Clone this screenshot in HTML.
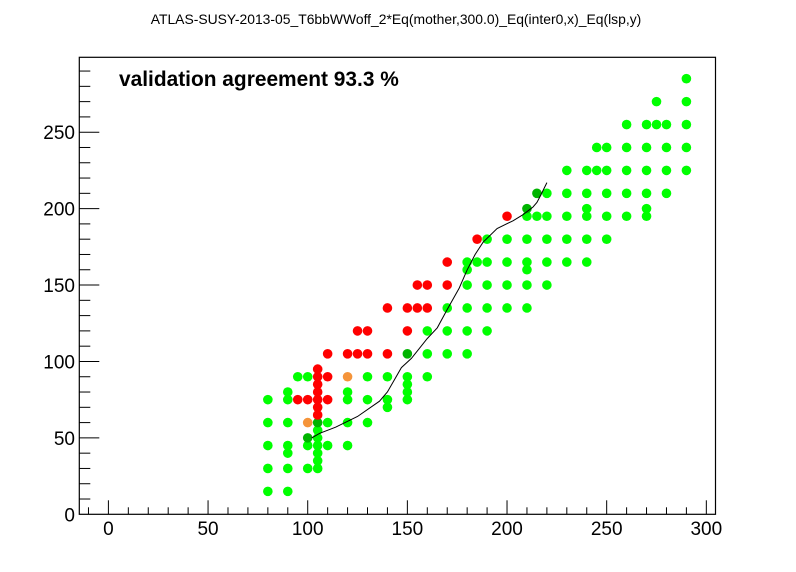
<!DOCTYPE html>
<html><head><meta charset="utf-8"><style>
html,body{margin:0;padding:0;background:#fff;}
svg{display:block;font-family:"Liberation Sans",Arial,sans-serif;}
</style></head><body>
<svg id="chart" width="796" height="572" viewBox="0 0 796 572">
<rect x="0" y="0" width="796" height="572" fill="#fff"/>
<text x="396" y="24" font-size="13.9" text-anchor="middle">ATLAS-SUSY-2013-05_T6bbWWoff_2*Eq(mother,300.0)_Eq(inter0,x)_Eq(lsp,y)</text>
<g id="marks"></g>
<g id="axes"></g>
<text x="119" y="86" font-size="20.9" font-weight="bold">validation agreement 93.3 %</text>
</svg>
<script>
const greenX=[80,80,80,80,80,90,90,90,90,90,90,90,95,100,100,100,105,105,105,105,105,105,110,110,120,120,120,120,130,130,130,140,140,140,150,150,150,150,160,160,160,170,170,170,180,180,180,180,180,180,185,190,190,190,190,190,200,200,200,200,210,210,210,210,210,210,215,220,220,220,220,220,230,230,230,230,230,240,240,240,240,240,240,245,245,250,250,250,250,250,260,260,260,260,260,270,270,270,270,270,270,275,275,280,280,280,280,290,290,290,290,290];
const greenY=[15,30,45,60,75,15,30,40,45,60,75,80,90,30,45,90,30,35,40,45,50,55,45,60,45,60,75,80,60,75,90,70,75,90,75,80,85,90,90,105,120,105,120,135,105,120,135,150,160,165,165,120,135,150,165,180,135,150,165,180,135,150,160,165,180,195,195,150,165,180,195,210,165,180,195,210,225,165,180,195,200,210,225,225,240,180,195,210,225,240,195,210,225,240,255,195,200,210,225,240,255,255,270,210,225,240,255,225,240,255,270,285];
const darkX=[100,105,150,210,215];
const darkY=[50,60,105,200,210];
const redX=[95,100,105,105,105,105,105,105,105,110,110,110,120,125,125,130,130,140,140,150,150,155,155,160,160,170,170,185,200];
const redY=[75,75,65,70,75,80,85,90,95,75,90,105,105,105,120,105,120,105,135,120,135,135,150,135,150,150,165,180,195];
const orangeX=[100,120];
const orangeY=[60,90];
const lineX=[102,106,114,125,136,140,147,152,160,165,170,176,180,184,188,195,203,208,213,215,217,220];
const lineY=[50,53,57,64,74,80,96,102,115,122,134,148,160,170,178,187,192,196,201,204,209,217];
const xTicks=[0,50,100,150,200,250,300];
const yTicks=[0,50,100,150,200,250];

const X0=79.3,X1=715.5,Y0=514.3,Y1=57.3;
const xMin=-14.6,xMax=304.6,yMin=0,yMax=299;
function sx(v){return X0+(v-xMin)/(xMax-xMin)*(X1-X0);}
function sy(v){return Y0-(v-yMin)/(yMax-yMin)*(Y0-Y1);}
const NS="http://www.w3.org/2000/svg";
const marks=document.getElementById('marks');
const axes=document.getElementById('axes');
function mk(tag,attrs,parent){const e=document.createElementNS(NS,tag);for(const k in attrs)e.setAttribute(k,attrs[k]);parent.appendChild(e);return e;}

function drawPts(xs,ys,color,name){
  for(let i=0;i<xs.length;i++){
    const c=mk('circle',{cx:sx(xs[i]),cy:sy(ys[i]),r:4.8,fill:color},marks);
    
    
  }
}
drawPts(greenX,greenY,'#00ff00','green-point');
drawPts(darkX,darkY,'#00b400','dark-green-point');
drawPts(redX,redY,'#ff0000','red-point');
drawPts(orangeX,orangeY,'#f5943a','orange-point');

let d='';
for(let i=0;i<lineX.length;i++){d+=(i?'L':'M')+sx(lineX[i]).toFixed(1)+' '+sy(lineY[i]).toFixed(1);}
const ln=mk('path',{d:d,fill:'none',stroke:'#000','stroke-width':1},marks);



const fr=mk('rect',{x:X0,y:Y1,width:X1-X0,height:Y0-Y1,fill:'none',stroke:'#000','stroke-width':1.2},axes);



for(let v=-10;v<=300;v+=10){
  const major=(v%50===0);
  const t=mk('line',{x1:sx(v),x2:sx(v),y1:Y0,y2:Y0-(major?14:7),stroke:'#000','stroke-width':1},axes);
  
  
}
for(let v=10;v<=290;v+=10){
  const major=(v%50===0);
  const t=mk('line',{x1:X0,x2:X0+(major?20:11),y1:sy(v),y2:sy(v),stroke:'#000','stroke-width':1},axes);
  
  
}
xTicks.forEach(v=>{
  const t=mk('text',{x:sx(v),y:535,'font-size':19,'text-anchor':'middle'},axes);
  t.textContent=v;
  
  
});
yTicks.forEach(v=>{
  const t=mk('text',{x:75,y:sy(v)+7,'font-size':19,'text-anchor':'end'},axes);
  t.textContent=v;
  
  
});
</script>
</body></html>
